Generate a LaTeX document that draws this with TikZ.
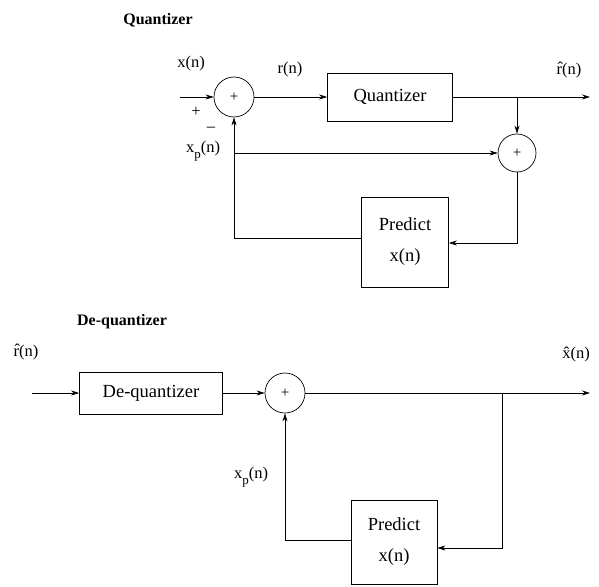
\documentclass[tikz,border=0pt]{standalone}
\usepackage{fontspec}
\setmainfont{Liberation Serif}
\usetikzlibrary{arrows.meta}
% letter x with a lowered p
\newcommand\xsubp{x\raisebox{-0.35em}{\fontsize{13}{13}\selectfont p}}
\begin{document}
\begin{tikzpicture}[x=1pt,y=-1pt,
  sig/.style={line width=0.7pt},
  arr/.style={sig,-{Stealth[length=8pt,width=5pt]}},
  sum/.style={circle,draw,line width=0.7pt,minimum size=40pt,inner sep=0pt,font=\fontsize{15}{15}\selectfont},
  blk/.style={draw,line width=0.7pt,inner sep=0pt,align=center,font=\fontsize{18.5}{22}\selectfont},
  lbl/.style={font=\fontsize{16.5}{16.5}\selectfont,inner sep=0pt},
  ttl/.style={font=\bfseries\fontsize{16}{16}\selectfont,inner sep=0pt}]
\useasboundingbox[fill=white] (0,0) rectangle (599,586);

% ---------- encoder ----------
\node[ttl] (t1) at (158,20) {Quantizer};
\node[sum] (a1) at (234,97) {+};
\coordinate (in1) at (180,97);
\node[lbl] (lx) at (191,64) {x(n)};
\node[lbl] (lplus) at (196,112) {+};
\node[lbl] (lminus) at (211,129) {\textendash};
\node[blk,minimum width=125pt,minimum height=48pt] (q) at (390,97) {Quantizer};
\node[lbl] (lr) at (290,70) {r(n)};
\coordinate (out1) at (590,97);
\node[lbl] (lrh) at (569,70) {\^r(n)};
\node[sum,minimum size=38pt] (a2) at (517,153) {+};
\coordinate (tap1) at (517,97);
\coordinate (br1) at (234,153);
\node[lbl] (lxp1) at (203,151) {\xsubp(n)};
\node[blk,minimum width=87pt,minimum height=90pt] (p1) at (405,242) {Predict\\[9pt]x(n)};

\draw[arr] (in1) -- (a1);
\draw[arr] (a1) -- (q);
\draw[arr] (q) -- (out1);
\draw[arr] (tap1) -- (a2);
\draw[arr] (br1) -- (a2);
\draw[arr] (a2) |- ([yshift=-1pt]p1.east);
\draw[arr] ([yshift=4pt]p1.west) -| (a1);

% ---------- decoder ----------
\node[ttl] (t2) at (122,322) {De-quantizer};
\node[lbl] (lrh2) at (26,352) {\^r(n)};
\coordinate (in2) at (32,393);
\node[blk,minimum width=143pt,minimum height=42pt] (d) at (151,393) {De-quantizer};
\node[sum] (a3) at (285,393) {+};
\coordinate (out2) at (590,393);
\node[lbl] (lxh) at (576,355) {\^x(n)};
\coordinate (tap2) at (502,393);
\node[blk,minimum width=86pt,minimum height=84pt] (p2) at (394,542) {Predict\\[9pt]x(n)};
\node[lbl] (lxp2) at (251,477) {\xsubp(n)};

\draw[arr] (in2) -- (d);
\draw[arr] (d) -- (a3);
\draw[arr] (a3) -- (out2);
\draw[arr] (tap2) |- ([yshift=-6pt]p2.east);
\draw[arr] ([yshift=2pt]p2.west) -| (a3);
\end{tikzpicture}
\end{document}
